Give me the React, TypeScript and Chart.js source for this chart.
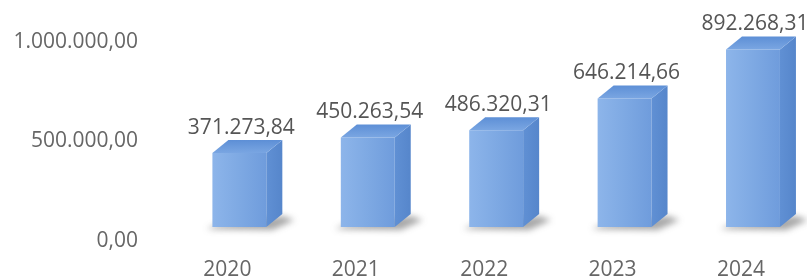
import React, { useEffect, useRef } from 'react';
import { Chart, registerables } from 'chart.js';

Chart.register(...registerables);

const years = [2020, 2021, 2022, 2023, 2024];
const values = [371273.84, 450263.54, 486320.31, 646214.66, 892268.31];
const yMin = 0;
const yMax = 1000000;
const yStep = 500000;

function fmt(v: number): string {
  const neg = v < 0;
  const [i, d] = Math.abs(v).toFixed(2).split('.');
  const int = i.replace(/\B(?=(\d{3})+(?!\d))/g, '.');
  return (neg ? '-' : '') + int + ',' + d;
}

const FONT = '"Open Sans", "DejaVu Sans", sans-serif';
const DX = 16;
const DY = -13;

const bar3d = {
  id: 'bar3d',
  beforeDatasetsDraw(chart: any) {
    const ctx = chart.ctx;
    const meta = chart.getDatasetMeta(0);
    meta.data.forEach((bar: any) => {
      const { x, base, width } = bar.getProps(['x', 'base', 'width'], true);
      const l = x - width / 2;
      const r = x + width / 2;
      ctx.save();
      ctx.filter = 'blur(3px)';
      ctx.fillStyle = 'rgba(60,60,60,0.45)';
      ctx.beginPath();
      ctx.moveTo(l - 6, base + 2);
      ctx.lineTo(r + 6, base + 3);
      ctx.lineTo(r + DX + 12, base + DY + 6);
      ctx.lineTo(r + DX, base + DY + 2);
      ctx.lineTo(l + 4, base - 2);
      ctx.closePath();
      ctx.fill();
      ctx.restore();
    });
  },
  afterDatasetsDraw(chart: any) {
    const ctx = chart.ctx;
    const meta = chart.getDatasetMeta(0);
    meta.data.forEach((bar: any, i: number) => {
      const { x, y, base, width } = bar.getProps(['x', 'y', 'base', 'width'], true);
      const l = x - width / 2;
      const r = x + width / 2;
      ctx.save();
      // side face
      const sg = ctx.createLinearGradient(r, 0, r + DX, 0);
      sg.addColorStop(0, '#6090d4');
      sg.addColorStop(1, '#5686cb');
      ctx.fillStyle = sg;
      ctx.beginPath();
      ctx.moveTo(r, y);
      ctx.lineTo(r + DX, y + DY);
      ctx.lineTo(r + DX, base + DY);
      ctx.lineTo(r, base);
      ctx.closePath();
      ctx.fill();
      // top face
      const tg = ctx.createLinearGradient(0, y + DY, 0, y);
      tg.addColorStop(0, '#5d8fd6');
      tg.addColorStop(1, '#7aa6e2');
      ctx.fillStyle = tg;
      ctx.beginPath();
      ctx.moveTo(l, y);
      ctx.lineTo(l + DX, y + DY);
      ctx.lineTo(r + DX, y + DY);
      ctx.lineTo(r, y);
      ctx.closePath();
      ctx.fill();
      // value label
      ctx.fillStyle = '#555555';
      ctx.font = '21px ' + FONT;
      ctx.textAlign = 'center';
      ctx.textBaseline = 'middle';
      ctx.fillText(fmt(values[i]), x + 2, y - 25);
      ctx.restore();
    });
  },
};

export default function App() {
  const ref = useRef<HTMLCanvasElement | null>(null);
  useEffect(() => {
    document.body.style.margin = '0';
    document.body.style.overflow = 'hidden';
    const canvas = ref.current;
    if (!canvas) return;
    const chart = new Chart(canvas, {
      type: 'bar',
      data: {
        datasets: [
          {
            data: years.map((yr, i) => ({ x: yr, y: values[i] })),
            backgroundColor: (c: any) => {
              const ch = c.chart;
              if (!ch.chartArea || c.dataIndex === undefined) return '#7da8e1';
              const px = ch.scales.x.getPixelForValue(years[c.dataIndex]);
              const g = ch.ctx.createLinearGradient(px - 27, 0, px + 27, 0);
              g.addColorStop(0, '#8db5ea');
              g.addColorStop(0.5, '#7ea9e3');
              g.addColorStop(1, '#6f9cdc');
              return g;
            },
            borderWidth: 0,
            barPercentage: 0.42,
            categoryPercentage: 1,
          },
        ],
      },
      options: {
        responsive: false,
        animation: false,
        layout: { padding: { top: 28, right: 0, bottom: 0, left: 0 } },
        plugins: { legend: { display: false }, tooltip: { enabled: false } },
        scales: {
          x: {
            type: 'linear',
            min: 2019.304,
            max: 2024.412,
            offset: false,
            grid: { display: false, drawTicks: false },
            border: { display: false },
            afterFit: (s: any) => {
              s.height = 52;
            },
            ticks: {
              stepSize: 1,
              includeBounds: false,
              autoSkip: false,
              maxRotation: 0,
              labelOffset: -12,
              padding: 30,
              color: '#666666',
              font: { family: FONT, size: 21 },
              callback: (v: any) => String(v),
            },
          },
          y: {
            min: yMin,
            max: yMax,
            grid: { display: false, drawTicks: false },
            border: { display: false },
            afterFit: (s: any) => {
              s.width = 150;
            },
            ticks: {
              stepSize: yStep,
              labelOffset: 14,
              padding: 12,
              color: '#666666',
              font: { family: FONT, size: 21 },
              callback: (v: any) => fmt(Number(v)),
            },
          },
        },
      },
      plugins: [bar3d],
    } as any);
    return () => chart.destroy();
  }, []);
  return <canvas ref={ref} width={807} height={279} style={{ display: 'block' }} />;
}
